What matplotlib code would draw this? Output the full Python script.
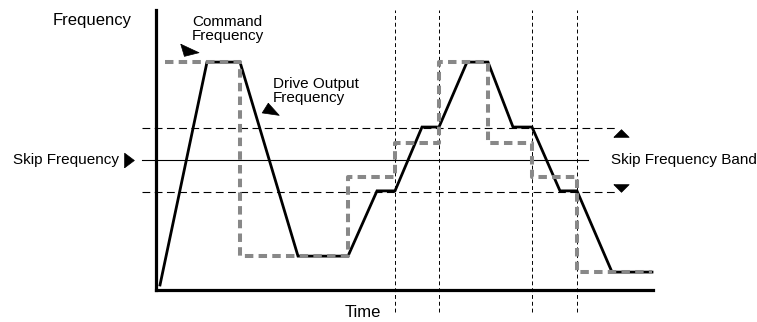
"""Skip frequency diagram: command vs drive output frequency over time."""

import matplotlib
matplotlib.use("Agg")
import matplotlib.pyplot as plt

plt.rcParams["font.family"] = ["Liberation Sans", "DejaVu Sans"]

# drive output frequency (solid black), time / frequency in % of axis
drive_time = [0.8, 10.2, 16.8, 28.4, 38.4, 44.2, 47.8, 53.2, 56.6,
              62.2, 66.4, 71.4, 75.2, 80.8, 84.2, 91.2, 99.2]
drive_freq = [1.8, 81.4, 81.4, 12.1, 12.1, 35.4, 35.4, 58.2, 58.2,
              81.4, 81.4, 58.2, 58.2, 35.4, 35.4, 6.4, 6.4]

# command frequency (grey dashed), stepwise
cmd_time = [1.8, 16.8, 38.4, 47.8, 56.6, 66.4, 75.2, 84.2, 99.2]
cmd_freq = [81.4, 12.1, 40.4, 52.5, 81.4, 52.5, 40.4, 6.4, 6.4]

skip_freq = 46.4
band_half = 11.4
band_edges = [-2.8, 92.4]
skip_edges = [-2.8, 86.4]
event_times = [47.8, 56.6, 75.2, 84.2]

# arrow head shapes (marker vertices, closed)
tri_up = [(-6, -3), (6, -3), (0, 3), (-6, -3)]
tri_down = [(-6, 3), (6, 3), (0, -3), (-6, 3)]
tri_right = [(-4, -6), (-4, 6), (4, 0), (-4, -6)]
cmd_head = [(-8, 6), (7, -1), (-5, -4), (-8, 6)]
drive_head = [(-1, 6), (8, -4), (-6, -2), (-1, 6)]

W, H = 757, 322
fig = plt.figure(figsize=(W / 100, H / 100), dpi=100)
ax = fig.add_axes([156 / W, 32 / H, 497 / W, 280 / H])
ax.set_xlim(0, 99.4)
ax.set_ylim(0, 100)
ax.set_xticks([])
ax.set_yticks([])
for side in ("top", "right"):
    ax.spines[side].set_visible(False)
for side in ("left", "bottom"):
    ax.spines[side].set_linewidth(2.3)

# skip frequency and band limits
ax.plot(skip_edges, [skip_freq] * 2, color="black", lw=0.8, clip_on=False)
for f in (skip_freq - band_half, skip_freq + band_half):
    ax.plot(band_edges, [f] * 2, color="black", lw=0.8,
            dashes=(7, 4), clip_on=False)

# vertical event markers
for t in event_times:
    ax.plot([t, t], [-7.9, 100], color="black", lw=0.7,
            dashes=(4, 3), clip_on=False)

ax.plot(drive_time, drive_freq, color="black", lw=2.0,
        solid_joinstyle="miter", clip_on=False)
ax.plot(cmd_time, cmd_freq, color="#888888", lw=2.9, drawstyle="steps-post",
        dashes=(2.1, 1.3), dash_capstyle="butt", clip_on=False)

# labels
ax.text(-4.8, 96.4, "Frequency", ha="right", va="center", fontsize=12)
ax.text(41.4, -7.9, "Time", ha="center", va="center", fontsize=12)
ax.text(7.2, 93.2, "Command\nFrequency", ha="left", va="center",
        fontsize=11, linespacing=1.0)
ax.text(23.4, 71.1, "Drive Output\nFrequency", ha="left", va="center",
        fontsize=11, linespacing=1.0)
ax.text(-7.4, skip_freq, "Skip Frequency", ha="right", va="center",
        fontsize=11)
ax.text(91.0, skip_freq, "Skip Frequency Band", ha="left", va="center",
        fontsize=11, clip_on=False)

# arrow heads
mk = dict(color="black", ls="none", markeredgewidth=0.5, clip_on=False)
ax.plot([-5.4], [skip_freq], marker=tri_right, markersize=10.5, **mk)
ax.plot([93.0], [56.1], marker=tri_up, markersize=11, **mk)
ax.plot([93.0], [36.4], marker=tri_down, markersize=11, **mk)
ax.plot([6.8], [85.4], marker=cmd_head, markersize=14, **mk)
ax.plot([22.6], [64.3], marker=drive_head, markersize=14, **mk)

fig.savefig("out.png", dpi=100)
